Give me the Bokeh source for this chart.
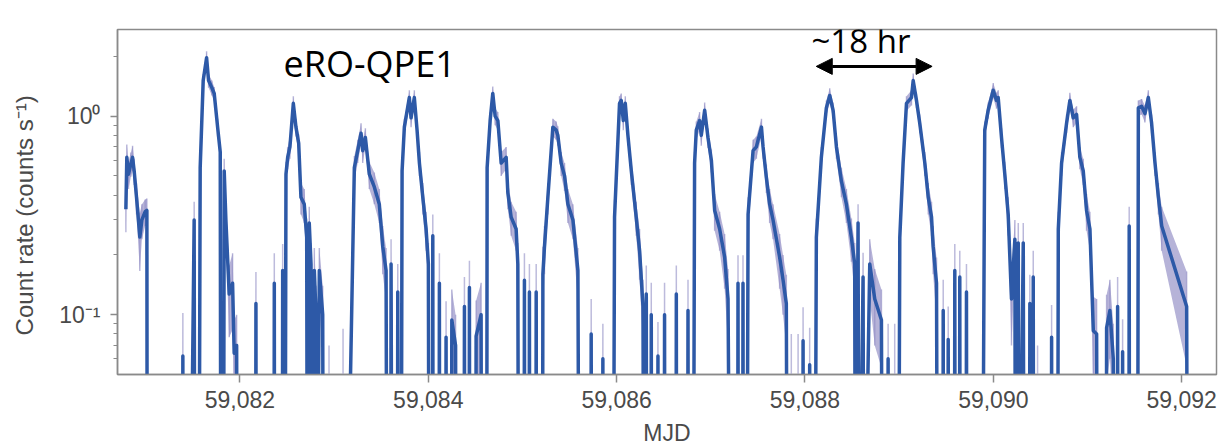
import math
from bokeh.plotting import figure
from bokeh.models import (Range1d, FixedTicker, NumeralTickFormatter, CustomJSTickFormatter,
                          Label, Arrow, NormalHead, ColumnDataSource)
from bokeh.embed import file_html
from bokeh.resources import INLINE

# ---------------- data ----------------
# MJD of each bin, count rate (counts/s; 0 = empty bin), 1-sigma error
mjd = [
    # QPE 0 (partial)
    59080.789, 59080.799, 59080.817, 59080.842, 59080.860, 59080.877, 59080.902, 59080.937, 59080.959, 59080.994, 59081.012, 59081.016,
    59081.390, 59081.394, 59081.398, 59081.469, 59081.514, 59081.521,
    # QPE 1
    59081.564, 59081.578, 59081.610, 59081.646, 59081.667, 59081.702, 59081.727, 59081.763, 59081.791, 59081.798,
    59081.825, 59081.833, 59081.851, 59081.886, 59081.922, 59081.939, 59081.965, 59081.973,
    59082.166, 59082.170, 59082.174, 59082.361, 59082.365, 59082.369, 59082.450, 59082.454, 59082.458,
    # QPE 2
    59082.478, 59082.489, 59082.507, 59082.531, 59082.567, 59082.595, 59082.624, 59082.648, 59082.683, 59082.709, 59082.717,
    59082.736, 59082.755, 59082.765, 59082.790, 59082.808, 59082.818, 59082.843, 59082.879, 59082.887, 59082.946, 59083.095,
    # QPE 3
    59083.127, 59083.215, 59083.251, 59083.286, 59083.304, 59083.332, 59083.374, 59083.427, 59083.480, 59083.517, 59083.552, 59083.562,
    59083.601, 59083.605, 59083.615, 59083.672, 59083.676, 59083.684,
    # QPE 4
    59083.711, 59083.722, 59083.746, 59083.799, 59083.817, 59083.852, 59083.881, 59083.906, 59083.942, 59083.977, 59084.001, 59084.009,
    59084.044, 59084.048, 59084.052, 59084.114, 59084.118, 59084.122, 59084.185, 59084.189, 59084.193, 59084.246, 59084.250, 59084.290, 59084.296,
    59084.380, 59084.384, 59084.388, 59084.433, 59084.437, 59084.441, 59084.504, 59084.508, 59084.561, 59084.566,
    # QPE 5
    59084.620, 59084.625, 59084.657, 59084.685, 59084.710, 59084.739, 59084.774, 59084.827, 59084.845, 59084.880, 59084.933, 59084.951, 59084.960,
    59085.017, 59085.021, 59085.025, 59085.070, 59085.074, 59085.078, 59085.142, 59085.146, 59085.150, 59085.213, 59085.217,
    # QPE 6
    59085.234, 59085.270, 59085.323, 59085.358, 59085.376, 59085.411, 59085.447, 59085.483, 59085.536, 59085.589, 59085.603,
    59085.726, 59085.730, 59085.734, 59085.850, 59085.854, 59085.858,
    # QPE 7
    59085.964, 59085.978, 59086.031, 59086.049, 59086.071, 59086.092, 59086.120, 59086.156, 59086.208, 59086.244, 59086.280, 59086.289,
    59086.311, 59086.315, 59086.319, 59086.364, 59086.368, 59086.372, 59086.435, 59086.439, 59086.443, 59086.505, 59086.509, 59086.513,
    59086.630, 59086.634, 59086.638, 59086.754, 59086.758, 59086.762,
    # QPE 8
    59086.814, 59086.828, 59086.846, 59086.881, 59086.899, 59086.935, 59086.970, 59087.006, 59087.041, 59087.094, 59087.147, 59087.183, 59087.207,
    59087.285, 59087.289, 59087.293, 59087.338, 59087.342, 59087.346,
    # QPE 9
    59087.383, 59087.396, 59087.449, 59087.484, 59087.538, 59087.555, 59087.590, 59087.625, 59087.661, 59087.731, 59087.767, 59087.802, 59087.813,
    59087.855, 59087.927, 59087.976, 59087.980, 59087.984, 59088.046, 59088.050, 59088.054,
    # QPE 10
    59088.105, 59088.121, 59088.174, 59088.227, 59088.263, 59088.299, 59088.334, 59088.387, 59088.440, 59088.493, 59088.528, 59088.536,
    59088.564, 59088.573, 59088.617, 59088.626, 59088.688, 59088.741, 59088.812, 59088.823, 59088.879, 59088.883, 59088.887, 59088.953,
    # QPE 11
    59088.993, 59089.007, 59089.042, 59089.078, 59089.131, 59089.149, 59089.184, 59089.219, 59089.273, 59089.309, 59089.344, 59089.361, 59089.397, 59089.408,
    59089.464, 59089.468, 59089.472, 59089.517, 59089.521, 59089.525, 59089.587, 59089.591, 59089.595, 59089.640, 59089.644, 59089.648,
    59089.711, 59089.715, 59089.719,
    # QPE 12
    59089.883, 59089.909, 59089.945, 59089.999, 59090.034, 59090.052, 59090.087, 59090.122, 59090.158, 59090.193, 59090.229, 59090.236,
    59090.265, 59090.273, 59090.318, 59090.327, 59090.384, 59090.388, 59090.392, 59090.420, 59090.424, 59090.428, 59090.470,
    59090.615, 59090.619, 59090.623,
    # QPE 13
    59090.682, 59090.690, 59090.725, 59090.778, 59090.813, 59090.849, 59090.884, 59090.919, 59090.955, 59090.990, 59091.026, 59091.062, 59091.097, 59091.107,
    59091.199, 59091.203, 59091.238, 59091.274, 59091.280, 59091.316, 59091.320, 59091.324, 59091.369, 59091.373, 59091.377,
    59091.439, 59091.443, 59091.447,
    # QPE 14
    59091.532, 59091.540, 59091.575, 59091.610, 59091.646, 59091.681, 59091.717, 59091.753, 59091.788, 59092.053, 59092.064,
]

rate = [
    0.34, 0.62, 0.51, 0.575, 0.62, 0.53, 0.39, 0.246, 0.30, 0.33, 0.335, 0,
    0, 0.062, 0, 0, 0.30, 0,
    0, 0.55, 1.51, 1.97, 1.51, 1.39, 1.30, 0.88, 0.66, 0,
    0, 0.53, 0.30, 0.127, 0.144, 0.064, 0.07, 0,
    0, 0.114, 0, 0, 0.144, 0, 0, 0.167, 0,
    0, 0.51, 0.62, 0.70, 1.16, 0.88, 0.73, 0.39, 0.36, 0.245, 0,
    0.29, 0.18, 0, 0.167, 0.10, 0, 0.167, 0.10, 0, 0, 0,
    0, 0.55, 0.67, 0.82, 0.67, 0.78, 0.51, 0.44, 0.36, 0.22, 0.167, 0,
    0, 0.18, 0, 0, 0.13, 0,
    0, 0.53, 0.88, 1.24, 0.98, 1.24, 0.85, 0.58, 0.39, 0.27, 0.18, 0,
    0, 0.25, 0, 0, 0.144, 0, 0, 0.077, 0, 0, 0.094, 0.07, 0,
    0, 0.11, 0, 0, 0.137, 0, 0, 0.078, 0.10, 0,
    0, 0.55, 0.95, 1.30, 1.00, 0.95, 0.58, 0.62, 0.41, 0.31, 0.27, 0.18, 0,
    0, 0.149, 0, 0, 0.13, 0, 0, 0.13, 0, 0, 0.16,
    0.22, 0.39, 0.88, 0.85, 0.80, 0.58, 0.50, 0.36, 0.30, 0.167, 0,
    0, 0.08, 0, 0, 0.06, 0,
    0, 0.31, 1.16, 1.20, 0.95, 1.16, 0.80, 0.53, 0.31, 0.21, 0.11, 0,
    0, 0.127, 0, 0, 0.10, 0, 0, 0.062, 0, 0, 0.10, 0,
    0, 0.127, 0, 0, 0.105, 0,
    0, 0.58, 0.85, 0.95, 0.80, 1.07, 0.78, 0.60, 0.335, 0.27, 0.195, 0.12, 0,
    0, 0.144, 0, 0, 0.144, 0,
    0, 0.32, 0.67, 0.70, 0.88, 0.70, 0.49, 0.36, 0.30, 0.195, 0.15, 0.114, 0,
    0, 0, 0, 0.074, 0, 0, 0.056, 0,
    0, 0.245, 0.62, 1.10, 1.27, 1.07, 0.70, 0.47, 0.36, 0.245, 0.18, 0,
    0.29, 0, 0.155, 0, 0.18, 0.12, 0.094, 0, 0, 0.06, 0, 0,
    0, 0.245, 0.58, 1.16, 1.24, 1.51, 1.20, 0.92, 0.58, 0.39, 0.31, 0.22, 0.144, 0,
    0, 0.105, 0, 0, 0.075, 0, 0, 0.167, 0, 0, 0.155, 0,
    0, 0.13, 0,
    0, 0.85, 1.07, 1.35, 1.20, 1.24, 0.78, 0.51, 0.32, 0.12, 0.24, 0,
    0.23, 0, 0.23, 0, 0, 0.114, 0, 0, 0.155, 0, 0,
    0, 0.077, 0,
    0, 0.27, 0.58, 0.92, 1.20, 0.98, 1.02, 0.62, 0.53, 0.335, 0.27, 0.083, 0.08, 0,
    0, 0.086, 0.105, 0.06, 0, 0, 0.11, 0, 0, 0.065, 0,
    0, 0.28, 0,
    0, 1.10, 1.12, 1.03, 1.24, 0.92, 0.58, 0.39, 0.28, 0.11, 0,
]

err = [
    0.08, 0.10, 0.08, 0.08, 0.09, 0.08, 0.07, 0.08, 0.06, 0.05, 0.05, 0,
    0, 0.04, 0, 0, 0.07, 0,
    0, 0.08, 0.12, 0.15, 0.12, 0.12, 0.10, 0.09, 0.08, 0,
    0, 0.08, 0.07, 0.05, 0.06, 0.03, 0.03, 0,
    0, 0.05, 0, 0, 0.06, 0, 0, 0.06, 0,
    0, 0.08, 0.08, 0.09, 0.10, 0.09, 0.08, 0.07, 0.07, 0.06, 0,
    0.06, 0.05, 0, 0.05, 0.04, 0, 0.05, 0.04, 0, 0.07, 0.085,
    0, 0.08, 0.09, 0.10, 0.09, 0.09, 0.08, 0.08, 0.07, 0.06, 0.05, 0,
    0, 0.06, 0, 0, 0.05, 0,
    0, 0.08, 0.09, 0.11, 0.10, 0.11, 0.09, 0.08, 0.07, 0.06, 0.05, 0,
    0, 0.07, 0, 0, 0.06, 0, 0, 0.04, 0, 0, 0.04, 0.03, 0,
    0, 0.045, 0, 0, 0.05, 0, 0, 0.04, 0.045, 0,
    0, 0.08, 0.10, 0.11, 0.10, 0.10, 0.08, 0.08, 0.07, 0.06, 0.06, 0.05, 0,
    0, 0.055, 0, 0, 0.05, 0, 0, 0.05, 0, 0, 0.06,
    0.06, 0.07, 0.09, 0.09, 0.09, 0.08, 0.08, 0.07, 0.06, 0.05, 0,
    0, 0.04, 0, 0, 0.03, 0,
    0, 0.07, 0.10, 0.10, 0.10, 0.10, 0.09, 0.08, 0.06, 0.06, 0.04, 0,
    0, 0.05, 0, 0, 0.045, 0, 0, 0.03, 0, 0, 0.045, 0,
    0, 0.05, 0, 0, 0.045, 0,
    0, 0.08, 0.09, 0.10, 0.09, 0.10, 0.09, 0.08, 0.07, 0.06, 0.06, 0.05, 0,
    0, 0.055, 0, 0, 0.055, 0,
    0, 0.07, 0.09, 0.09, 0.09, 0.09, 0.08, 0.07, 0.06, 0.06, 0.05, 0.045, 0,
    0.08, 0.08, 0, 0.035, 0, 0, 0.03, 0,
    0, 0.06, 0.08, 0.10, 0.11, 0.10, 0.09, 0.08, 0.07, 0.06, 0.05, 0,
    0.07, 0, 0.05, 0, 0.06, 0.05, 0.04, 0, 0, 0.03, 0, 0.09,
    0, 0.06, 0.08, 0.10, 0.11, 0.13, 0.10, 0.10, 0.08, 0.07, 0.06, 0.06, 0.05, 0,
    0, 0.045, 0, 0, 0.035, 0, 0, 0.06, 0, 0, 0.055, 0,
    0, 0.05, 0,
    0, 0.09, 0.10, 0.12, 0.11, 0.11, 0.09, 0.08, 0.07, 0.05, 0.06, 0,
    0.06, 0, 0.06, 0, 0, 0.045, 0, 0, 0.055, 0, 0.07,
    0, 0.035, 0,
    0, 0.06, 0.08, 0.10, 0.11, 0.10, 0.10, 0.08, 0.08, 0.07, 0.06, 0.04, 0.04, 0,
    0, 0.04, 0.045, 0.03, 0, 0, 0.045, 0, 0, 0.03, 0,
    0, 0.07, 0,
    0, 0.10, 0.10, 0.10, 0.11, 0.10, 0.08, 0.07, 0.07, 0.055, 0,
]

x_ticks = [59082, 59084, 59086, 59088, 59090, 59092]
y_ticks = [0.1, 1.0]
y_minor_ticks = [0.06, 0.07, 0.08, 0.09, 0.2, 0.3, 0.4, 0.5, 0.6, 0.7, 0.8, 0.9, 2.0]
x_limits = (59080.70, 59092.37)
y_limits = (0.05, 2.73)

source_label = "eRO-QPE1"
period_label = "~18 hr"
period_arrow = (59088.12, 59089.35, 1.78)   # start MJD, end MJD, rate level
y_title = "Count rate (counts s\u207b\u00b9)"
x_title = "MJD"

# ---------------- derived plotting columns ----------------
FLOOR = 0.003   # empty bins drawn below the visible range
y_line = [r if r > 0 else FLOOR for r in rate]
y_lo = [max(r - e, FLOOR) if r > 0 else FLOOR for r, e in zip(rate, err)]
y_hi = [(r + e) if r > 0 else FLOOR for r, e in zip(rate, err)]
src = ColumnDataSource(dict(x=mjd, y=y_line, lo=y_lo, hi=y_hi))

eb_x = [t for t, e in zip(mjd, err) if e > 0]
eb_lo = [max(r - e, FLOOR) for r, e in zip(rate, err) if e > 0]
eb_hi = [r + e for r, e in zip(rate, err) if e > 0]
ebsrc = ColumnDataSource(dict(x=eb_x, lo=eb_lo, hi=eb_hi))

# ---------------- figure ----------------
p = figure(frame_width=1099, frame_height=345, y_axis_type="log",
           x_range=Range1d(*x_limits), y_range=Range1d(*y_limits),
           output_backend="svg", toolbar_location=None,
           min_border_left=117, min_border_right=10,
           min_border_top=29, min_border_bottom=74)
p.background_fill_color = "white"
p.border_fill_color = "white"
p.outline_line_color = "#8a8a8a"
p.outline_line_width = 1.5
p.xgrid.visible = False
p.ygrid.visible = False

p.segment(x0="x", y0="lo", x1="x", y1="hi", source=ebsrc,
          line_color="#bdbbdc", line_width=1.5)
p.varea(x="x", y1="lo", y2="hi", source=src, fill_color="#8f8bc3", fill_alpha=0.65)
p.line(x="x", y="y", source=src, line_color="#2d59a7", line_width=3.5,
       line_join="round")

AX_COL = "#8a8a8a"
TXT_COL = "#4a4a4a"
FONT = "Liberation Sans"

xa = p.xaxis[0]
xa.ticker = FixedTicker(ticks=x_ticks)
xa.formatter = NumeralTickFormatter(format="0,0")
xa.axis_label = x_title
xa.minor_tick_line_color = None
xa.major_tick_in = 0
xa.major_tick_out = 8
xa.major_label_standoff = 8
xa.axis_label_standoff = 9

ya = p.yaxis[0]
ya.ticker = FixedTicker(ticks=y_ticks, minor_ticks=y_minor_ticks)
ya.formatter = CustomJSTickFormatter(code="""
    const sup = {'0':'\u2070','1':'\u00b9','2':'\u00b2','3':'\u00b3','-':'\u207b'};
    const e = Math.round(Math.log10(tick));
    return '10' + String(e).split('').map(c => sup[c] || c).join('');
""")
# two figure spaces at the end push the centred (rotated) title down a little
ya.axis_label = y_title + "\u2007\u2007"
ya.major_tick_in = 0
ya.major_tick_out = 7
ya.minor_tick_in = 0
ya.minor_tick_out = 4
ya.major_label_standoff = 10
ya.axis_label_standoff = 18

for ax in (xa, ya):
    ax.axis_line_color = AX_COL
    ax.axis_line_width = 1.5
    ax.major_tick_line_color = AX_COL
    ax.major_tick_line_width = 1.5
    ax.major_label_text_font = FONT
    ax.major_label_text_font_size = "23px"
    ax.major_label_text_color = TXT_COL
    ax.axis_label_text_font = FONT
    ax.axis_label_text_font_size = "23px"
    ax.axis_label_text_font_style = "normal"
    ax.axis_label_text_color = TXT_COL
ya.axis_label_text_font_size = "24px"
ya.minor_tick_line_color = AX_COL
ya.minor_tick_line_width = 1.2

# annotations (inside the frame)
p.add_layout(Label(x=166, y=311, x_units="screen", y_units="screen", text=source_label,
                   text_font="Open Sans", text_font_size="36px", text_color="black",
                   text_baseline="alphabetic"))
p.add_layout(Label(x=694, y=334, x_units="screen", y_units="screen", text=period_label,
                   text_font="Open Sans", text_font_size="33px", text_color="black",
                   text_baseline="alphabetic"))
p.add_layout(Arrow(x_start=period_arrow[0], x_end=period_arrow[1],
                   y_start=period_arrow[2], y_end=period_arrow[2],
                   line_color="black", line_width=3,
                   start=NormalHead(size=16, fill_color="black", line_color="black"),
                   end=NormalHead(size=16, fill_color="black", line_color="black")))

open("out.html", "w").write(file_html(p, INLINE))
